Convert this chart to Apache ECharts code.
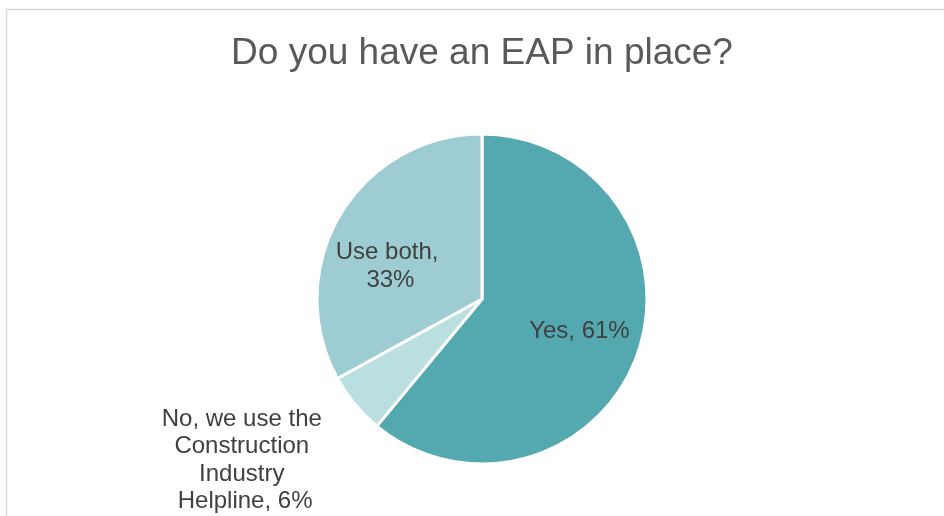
<!DOCTYPE html>
<html>
<head>
<meta charset="utf-8">
<script src="https://cdn.jsdelivr.net/npm/echarts@6/dist/echarts.min.js"></script>
<style>
  html, body { margin: 0; padding: 0; background: #ffffff; }
  #chart { width: 944px; height: 516px; }
</style>
</head>
<body>
<div id="chart"></div>
<script>
// Survey answers, in slice order (clockwise from 12 o'clock)
const categories = ['Yes', 'No, we use the Construction Industry Helpline', 'Use both'];
const shares = [61, 6, 33];
const colors = ['#54a9b0', '#badfe0', '#9dcdd2'];

// label placement per slice: [offsetX, offsetY, wrapWidth]
const labelTweaks = [
  [17, 3, 200],
  [-171, 107, 168],
  [-18, 11, 114]
];

const chart = echarts.init(document.getElementById('chart'), null, { renderer: 'canvas' });

const data = categories.map((name, i) => ({
  name: name,
  value: shares[i],
  itemStyle: { color: colors[i] },
  label: {
    offset: [labelTweaks[i][0], labelTweaks[i][1]],
    width: labelTweaks[i][2]
  }
}));

chart.setOption({
  animation: false,
  backgroundColor: '#ffffff',
  title: {
    text: 'Do you have an EAP in place?',
    left: 477,
    textAlign: 'center',
    top: 30,
    textStyle: {
      fontFamily: 'Liberation Sans, Arial, sans-serif',
      fontSize: 37,
      fontWeight: 'normal',
      color: '#595959'
    }
  },
  graphic: [{
    type: 'rect',
    silent: true,
    shape: { x: 6.5, y: 9.5, width: 1000, height: 600 },
    style: { fill: 'none', stroke: '#d9d9d9', lineWidth: 1.5 }
  }],
  series: [{
    type: 'pie',
    center: [482, 299],
    radius: 165,
    startAngle: 90,
    clockwise: true,
    avoidLabelOverlap: false,
    itemStyle: { borderColor: '#ffffff', borderWidth: 3 },
    label: {
      show: true,
      position: 'inside',
      formatter: p => p.name + ', ' + p.value + '%',
      overflow: 'break',
      align: 'center',
      fontFamily: 'Liberation Sans, Arial, sans-serif',
      fontSize: 24,
      lineHeight: 27.5,
      color: '#404040'
    },
    labelLine: { show: false },
    emphasis: { disabled: true },
    data: data
  }]
});
</script>
</body>
</html>
